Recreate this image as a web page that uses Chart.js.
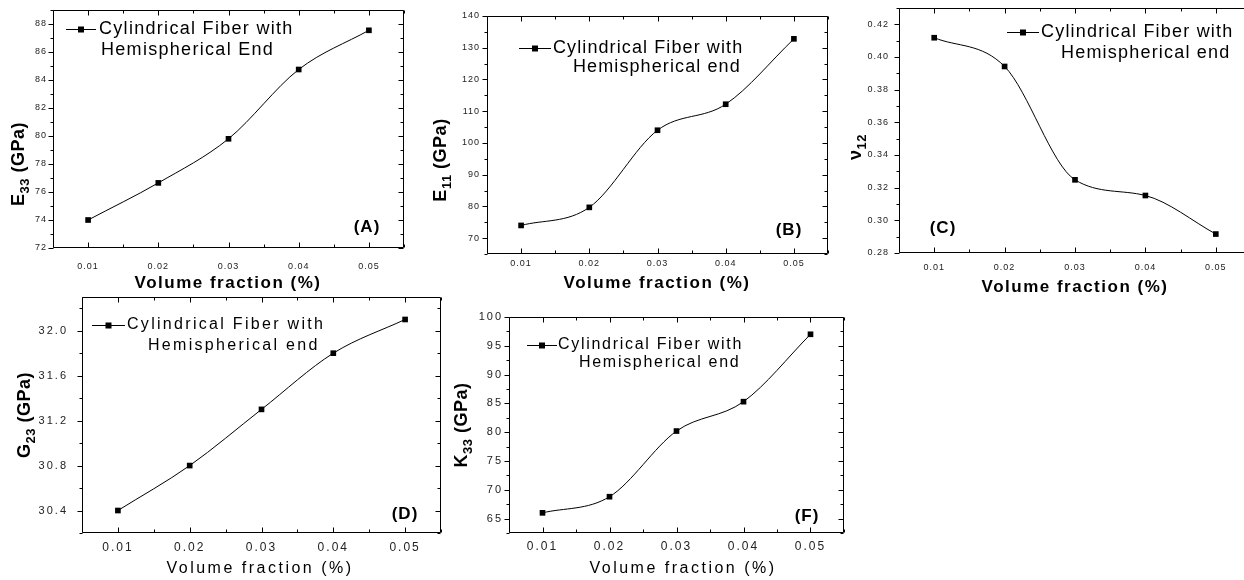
<!DOCTYPE html>
<html>
<head>
<meta charset="utf-8">
<script src="https://cdn.jsdelivr.net/npm/chart.js@4.4.1/dist/chart.umd.min.js"></script>
<style>
  html, body { margin: 0; padding: 0; background: #fff; width: 1244px; height: 580px; overflow: hidden; position: relative; }
  canvas { position: absolute; }
</style>
</head>
<body>
<script>
// Volume fraction of fibres (x values shared by every panel)
const volumeFraction = [0.01, 0.02, 0.03, 0.04, 0.05];

// Effective properties per panel
const e33  = [74.0, 76.65, 79.8, 84.75, 87.55];
const e11  = [74.0, 79.7, 104.0, 112.2, 132.8];
const nu12 = [0.4118, 0.3942, 0.3248, 0.3152, 0.2916];
const g23  = [30.4, 30.8, 31.3, 31.8, 32.1];
const k33  = [66.0, 68.8, 80.2, 85.3, 97.0];

// Tick labels
const xTickValues = [0.01, 0.02, 0.03, 0.04, 0.05];
const e33Ticks  = [72, 74, 76, 78, 80, 82, 84, 86, 88];
const e11Ticks  = [70, 80, 90, 100, 110, 120, 130, 140];
const nu12Ticks = [0.28, 0.30, 0.32, 0.34, 0.36, 0.38, 0.40, 0.42];
const g23Ticks  = [30.4, 30.8, 31.2, 31.6, 32.0];
const k33Ticks  = [65, 70, 75, 80, 85, 90, 95, 100];

const legendLine1 = 'Cylindrical Fiber with';
const xTitle = 'Volume fraction (%)';

const FONT = '"Liberation Sans", Arial, sans-serif';
// canvas margins around each plot frame
const ML = 80, MT = 30, MR = 12, MB = 52;

const panels = [
  { values: e33, yTicks: e33Ticks, yMin: 72, yMax: 89, yMinor: 1, dec: 0,
    frame: { l: 53, t: 10, r: 404, b: 248 }, xPad: 13, yPad: 6,
    style: 'bold', legendSpacing: '1.3px',
    legend: { x1: 66, x2: 96, y: 29, tx1: 99, tx2: 101, ty2: 50, line2: 'Hemispherical End' },
    tag: { text: '(A)', x: 367, y: 227 },
    xTitlePos: { x: 228, y: 283 },
    yTitle: { x: 18, y: 164, main: 'E', sub: '33', tail: ' (GPa)' } },
  { values: e11, yTicks: e11Ticks, yMin: 65, yMax: 140, yMinor: 5, dec: 0,
    frame: { l: 487, t: 16, r: 828, b: 254 }, xPad: 4, yPad: 7,
    style: 'bold', legendSpacing: '1.1px',
    legend: { x1: 519, x2: 551, y: 48, tx1: 553, tx2: 573, ty2: 67, line2: 'Hemispherical end' },
    tag: { text: '(B)', x: 789, y: 230 },
    xTitlePos: { x: 657, y: 283 },
    yTitle: { x: 440, y: 160, main: 'E', sub: '11', tail: ' (GPa)' } },
  { values: nu12, yTicks: nu12Ticks, yMin: 0.28, yMax: 0.43, yMinor: 0.01, dec: 2,
    frame: { l: 899, t: 8, r: 1251, b: 253 }, xPad: 9, yPad: 10,
    style: 'bold', legendSpacing: '1.2px',
    legend: { x1: 1007, x2: 1039, y: 32, tx1: 1041, tx2: 1061, ty2: 53, line2: 'Hemispherical end' },
    tag: { text: '(C)', x: 943, y: 228 },
    xTitlePos: { x: 1075, y: 287 },
    yTitle: { x: 855, y: 147, main: 'ν', sub: '12', tail: '' } },
  { values: g23, yTicks: g23Ticks, yMin: 30.2, yMax: 32.3, yMinor: 0.2, dec: 1,
    frame: { l: 82, t: 297, r: 441, b: 533 }, xPad: 7, yPad: 14,
    style: 'plain', legendSpacing: '2.3px',
    legend: { x1: 92, x2: 125, y: 325, tx1: 127, tx2: 148, ty2: 346, line2: 'Hemispherical end' },
    tag: { text: '(D)', x: 405, y: 514 },
    xTitlePos: { x: 260, y: 569 },
    yTitle: { x: 24, y: 415, main: 'G', sub: '23', tail: ' (GPa)' } },
  { values: k33, yTicks: k33Ticks, yMin: 62.5, yMax: 100, yMinor: 2.5, dec: 0,
    frame: { l: 509, t: 317, r: 844, b: 533 }, xPad: 6, yPad: 6,
    style: 'plain', legendSpacing: '1.7px',
    legend: { x1: 527, x2: 557, y: 345, tx1: 558, tx2: 579, ty2: 363, line2: 'Hemispherical end' },
    tag: { text: '(F)', x: 807, y: 516 },
    xTitlePos: { x: 683, y: 569 },
    yTitle: { x: 461, y: 425, main: 'K', sub: '33', tail: ' (GPa)' } }
];

// Text styles for the two families of panels
const styles = {
  bold:  { xTick: 9, yTick: 9, tickSpacing: '1px', title: 'bold 17px', titleSpacing: '1.5px', legend: 18 },
  plain: { xTick: 12, yTick: 11, tickSpacing: '2px', title: '16px', titleSpacing: '2.5px', legend: 16 }
};

// Frame, tick marks, legend, titles and panel tag
const decor = {
  id: 'decor',
  beforeLayout(chart) { chart.ctx.letterSpacing = chart.options.plugins.decor.st.tickSpacing; },
  beforeDraw(chart)   { chart.ctx.letterSpacing = chart.options.plugins.decor.st.tickSpacing; },
  afterDraw(chart, args, o) {
    const { ctx, chartArea: a, scales: { x, y } } = chart;
    const p = o.panel, st = o.st, ox = o.ox, oy = o.oy;
    const L = Math.round(a.left) + 0.5, R = Math.round(a.right) - 0.5;
    const T = Math.round(a.top) + 0.5, B = Math.round(a.bottom) - 0.5;
    ctx.save();
    ctx.letterSpacing = '0px';
    ctx.strokeStyle = '#000';
    ctx.lineWidth = 1;
    ctx.beginPath();
    ctx.moveTo(L, T); ctx.lineTo(R, T); ctx.lineTo(R, B); ctx.lineTo(L, B); ctx.closePath();
    ctx.stroke();

    ctx.beginPath();
    // x ticks: majors and minors, pointing into the frame on top and bottom
    for (let v = 0.005; v <= 0.0551; v += 0.005) {
      const px = Math.round(x.getPixelForValue(v)) + 0.5;
      const major = xTickValues.some(t => Math.abs(t - v) < 1e-6);
      const len = major ? 5 : 3;
      ctx.moveTo(px, B); ctx.lineTo(px, B - len);
      ctx.moveTo(px, T); ctx.lineTo(px, T + len);
    }
    // y ticks: outward on the left, inward on the right
    const n = Math.round((p.yMax - p.yMin) / p.yMinor);
    for (let i = 0; i <= n; i++) {
      const v = p.yMin + i * p.yMinor;
      const py = Math.round(y.getPixelForValue(v)) + 0.5;
      const major = p.yTicks.some(t => Math.abs(t - v) < p.yMinor / 10);
      const len = major ? 5 : 3;
      ctx.moveTo(L, py); ctx.lineTo(L - len, py);
      ctx.moveTo(R, py); ctx.lineTo(R - len, py);
    }
    ctx.stroke();

    // legend sample
    const lg = p.legend;
    ctx.beginPath();
    ctx.moveTo(lg.x1 - ox, lg.y - oy + 0.5); ctx.lineTo(lg.x2 - ox, lg.y - oy + 0.5);
    ctx.stroke();
    ctx.fillStyle = '#000';
    const mx = (lg.x1 + lg.x2) / 2 - ox;
    ctx.fillRect(mx - 3, lg.y - oy - 2.5, 6, 6);
    ctx.font = st.legend + 'px ' + FONT;
    ctx.letterSpacing = p.legendSpacing;
    ctx.textBaseline = 'middle';
    ctx.textAlign = 'left';
    ctx.fillText(legendLine1, lg.tx1 - ox, lg.y - oy);
    ctx.fillText(lg.line2, lg.tx2 - ox, lg.ty2 - oy);

    // panel tag
    ctx.font = 'bold 17px ' + FONT;
    ctx.letterSpacing = '1px';
    ctx.textAlign = 'center';
    ctx.fillText(p.tag.text, p.tag.x - ox, p.tag.y - oy);

    // x title
    ctx.font = st.title + ' ' + FONT;
    ctx.letterSpacing = st.titleSpacing;
    ctx.fillText(xTitle, p.xTitlePos.x - ox, p.xTitlePos.y - oy);

    // y title with subscript, rotated
    const yt = p.yTitle;
    ctx.translate(yt.x - ox, yt.y - oy);
    ctx.rotate(-Math.PI / 2);
    ctx.letterSpacing = '0.5px';
    ctx.textAlign = 'left';
    ctx.textBaseline = 'alphabetic';
    const big = 'bold 18px ' + FONT, small = 'bold 13px ' + FONT;
    ctx.font = big;  const w1 = ctx.measureText(yt.main).width;
    ctx.font = small; const w2 = ctx.measureText(yt.sub).width;
    ctx.font = big;  const w3 = yt.tail ? ctx.measureText(yt.tail).width : 0;
    let sx = -(w1 + w2 + w3) / 2;
    ctx.font = big;   ctx.fillText(yt.main, sx, 6); sx += w1;
    ctx.font = small; ctx.fillText(yt.sub, sx, 11); sx += w2;
    if (yt.tail) { ctx.font = big; ctx.fillText(yt.tail, sx, 6); }
    ctx.restore();
  }
};

panels.forEach(p => {
  const st = styles[p.style];
  const f = p.frame;
  const cv = document.createElement('canvas');
  const left = f.l - ML, top = f.t - MT;
  const w = f.r - f.l + ML + MR, h = f.b - f.t + MT + MB;
  cv.width = w; cv.height = h;
  cv.style.left = left + 'px'; cv.style.top = top + 'px';
  cv.style.width = w + 'px'; cv.style.height = h + 'px';
  document.body.appendChild(cv);

  new Chart(cv, {
    type: 'line',
    data: {
      datasets: [{
        data: volumeFraction.map((v, i) => ({ x: v, y: p.values[i] })),
        borderColor: '#000',
        borderWidth: 1,
        backgroundColor: '#000',
        pointStyle: 'rect',
        pointRadius: 4,
        pointBorderWidth: 0,
        cubicInterpolationMode: 'monotone',
        fill: false
      }]
    },
    options: {
      responsive: false,
      devicePixelRatio: 1,
      animation: false,
      events: [],
      layout: { padding: { left: 0, top: MT, right: MR, bottom: 0 } },
      plugins: {
        legend: { display: false },
        tooltip: { enabled: false },
        decor: { panel: p, st: st, ox: left, oy: top }
      },
      scales: {
        x: {
          type: 'linear', min: 0.005, max: 0.055, bounds: 'data',
          afterBuildTicks: s => { s.ticks = xTickValues.map(v => ({ value: v })); },
          afterFit: s => { s.height = MB; },
          grid: { display: false, drawTicks: false },
          border: { display: false },
          ticks: {
            padding: p.xPad, color: '#222', maxRotation: 0, autoSkip: false,
            font: { family: FONT, size: st.xTick },
            callback: v => v.toFixed(2)
          }
        },
        y: {
          type: 'linear', min: p.yMin, max: p.yMax, bounds: 'data',
          afterBuildTicks: s => { s.ticks = p.yTicks.map(v => ({ value: v })); },
          afterFit: s => { s.width = ML; },
          grid: { display: false, drawTicks: false },
          border: { display: false },
          ticks: {
            padding: p.yPad, color: '#222', autoSkip: false,
            font: { family: FONT, size: st.yTick },
            callback: v => v.toFixed(p.dec)
          }
        }
      }
    },
    plugins: [decor]
  });
});
</script>
</body>
</html>
